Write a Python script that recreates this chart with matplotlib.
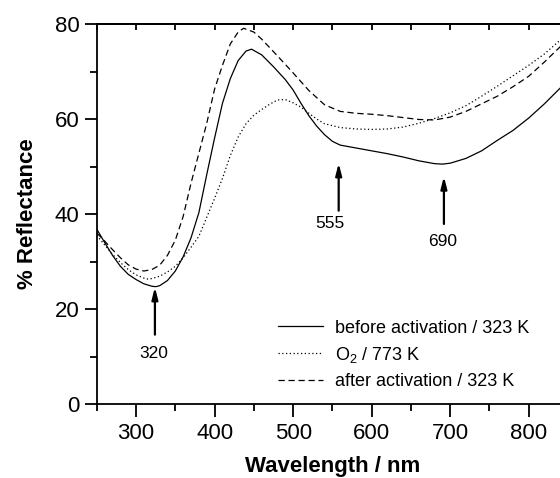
import matplotlib
matplotlib.use("Agg")
import matplotlib.pyplot as plt
from matplotlib.ticker import MultipleLocator

plt.rcParams['font.family'] = ['Liberation Sans', 'DejaVu Sans']
plt.rcParams['mathtext.fontset'] = 'custom'
plt.rcParams['mathtext.rm'] = 'Liberation Sans'

# before activation / 323 K
wl_before = [250, 260, 270, 280, 290, 300, 310, 320, 325, 330, 340, 350, 360, 370, 380,
             390, 400, 410, 420, 430, 440, 447, 460, 475, 490, 500, 510, 520, 530, 540,
             550, 560, 580, 600, 620, 640, 660, 680, 690, 700, 720, 740, 760, 780, 800,
             820, 840, 850]
r_before = [36.8, 34.0, 31.3, 29.0, 27.3, 26.2, 25.3, 24.8, 24.7, 24.9, 26.0, 28.0, 31.0, 35.0, 40.3,
            48.3, 56.0, 63.3, 68.5, 72.3, 74.3, 74.7, 73.5, 71.0, 68.3, 66.1, 63.3, 60.7, 58.5, 56.7,
            55.3, 54.5, 53.9, 53.3, 52.7, 52.0, 51.2, 50.6, 50.5, 50.7, 51.7, 53.3, 55.5, 57.6, 60.2,
            63.2, 66.5, 68.0]

# O2 / 773 K
wl_o2 = [250, 260, 270, 280, 290, 300, 310, 315, 320, 330, 340, 350, 360, 370, 380,
         390, 400, 410, 420, 430, 440, 450, 460, 470, 480, 490, 500, 510, 520, 530,
         540, 560, 580, 600, 620, 640, 660, 680, 700, 720, 740, 760, 780, 800, 820,
         840, 850]
r_o2 = [35.5, 33.5, 31.5, 29.8, 28.3, 27.2, 26.5, 26.3, 26.4, 26.9, 27.8, 29.0, 30.8, 33.0, 35.3,
        39.3, 43.3, 47.5, 52.3, 56.2, 59.0, 60.8, 62.0, 63.1, 64.0, 64.1, 63.4, 62.5, 61.2, 60.0,
        59.0, 58.2, 57.9, 57.8, 57.9, 58.3, 59.1, 60.1, 61.3, 62.8, 64.8, 66.9, 69.1, 71.3, 73.7,
        76.6, 77.8]

# after activation / 323 K
wl_after = [250, 260, 270, 280, 290, 300, 310, 320, 330, 340, 350, 360, 370, 380, 390,
            400, 410, 420, 430, 437, 450, 460, 480, 500, 520, 540, 560, 580, 600, 620,
            640, 660, 680, 700, 720, 740, 760, 780, 800, 820, 840, 850]
r_after = [36.0, 34.3, 32.5, 30.8, 29.3, 28.4, 28.0, 28.3, 29.2, 31.3, 34.5, 39.5, 46.5, 52.8, 59.1,
           66.3, 71.3, 75.8, 78.3, 79.1, 78.3, 76.8, 73.3, 69.7, 66.0, 63.0, 61.6, 61.2, 61.0, 60.7,
           60.3, 59.9, 59.8, 60.4, 61.6, 63.2, 64.8, 66.8, 69.0, 72.0, 75.2, 76.5]

labels = ['before activation / 323 K', r'$\mathregular{O_2}$ / 773 K', 'after activation / 323 K']

peak_pos = [324, 558, 692]
peak_tip = [24.6, 50.7, 47.9]
peak_text = ['320', '555', '690']
text_x = [322, 547, 690]
text_y = [10.7, 37.9, 34.2]

fig = plt.figure(figsize=(5.6, 4.78), dpi=100)
ax = fig.add_axes([96.8 / 560, 74 / 478, 471.2 / 560, 380 / 478])

lw = 0.9
ax.plot(wl_before, r_before, color='black', lw=lw, ls='-', label=labels[0])
ax.plot(wl_o2, r_o2, color='black', lw=lw, ls=(0, (1, 2)), label=labels[1])
ax.plot(wl_after, r_after, color='black', lw=lw, ls=(0, (5, 3)), label=labels[2])

for xp, tip, t, tx, ty in zip(peak_pos, peak_tip, peak_text, text_x, text_y):
    ax.annotate('', xy=(xp, tip), xytext=(xp, tip - 10),
                arrowprops=dict(arrowstyle='-|>,head_length=0.7,head_width=0.18',
                                lw=1.6, color='black', shrinkA=0, shrinkB=0))
    ax.text(tx, ty, t, ha='center', va='center', fontsize=12.5)

ax.set_xlim(250, 850)
ax.set_ylim(0, 80)
ax.xaxis.set_major_locator(MultipleLocator(100))
ax.xaxis.set_minor_locator(MultipleLocator(50))
ax.yaxis.set_major_locator(MultipleLocator(20))
ax.yaxis.set_minor_locator(MultipleLocator(10))

for s in ax.spines.values():
    s.set_linewidth(1.3)

ax.tick_params(axis='both', which='major', direction='out', length=9, width=1.3,
               labelsize=16, top=False, right=False)
ax.tick_params(axis='both', which='minor', direction='out', length=5, width=1.3,
               top=False, right=False)
ax.tick_params(axis='x', pad=5)

# inward ticks on top spine
sec = ax.secondary_xaxis('top')
sec.xaxis.set_major_locator(MultipleLocator(50))
sec.tick_params(direction='in', length=4, width=1.3, labelsize=0, labeltop=False)
sec.spines['top'].set_linewidth(1.3)

ax.set_xlabel('Wavelength / nm', fontsize=16, fontweight='bold', labelpad=8)
ax.set_ylabel('% Reflectance', fontsize=16, fontweight='bold', labelpad=12)

leg = ax.legend(loc='upper left', bbox_to_anchor=(0.385, 0.222), frameon=False,
                fontsize=13, handlelength=2.5, handletextpad=0.65, labelspacing=0.45,
                borderpad=0, borderaxespad=0)

fig.savefig('out.png', dpi=100)
